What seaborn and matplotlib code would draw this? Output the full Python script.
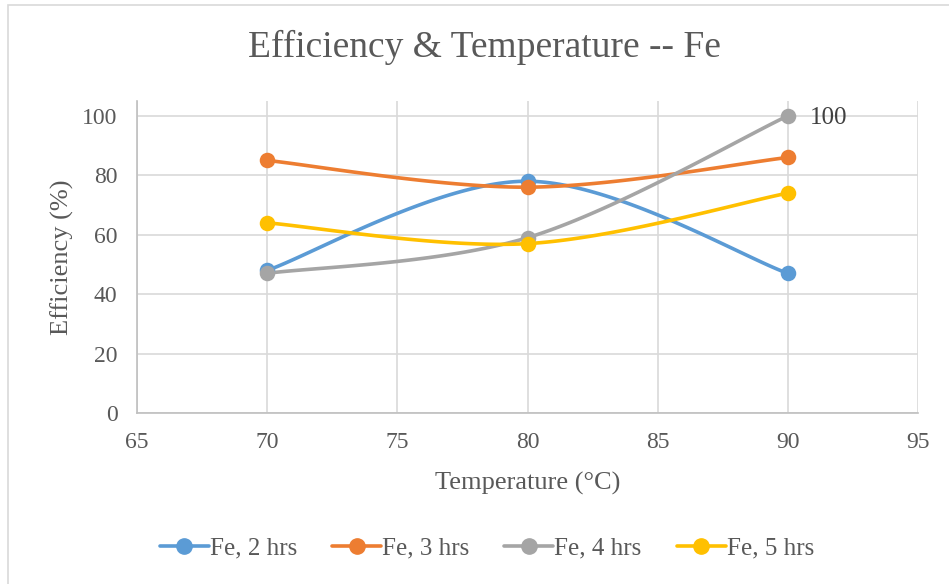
import numpy as np
import pandas as pd
import matplotlib
matplotlib.use("Agg")
import matplotlib.pyplot as plt
from matplotlib.lines import Line2D
from matplotlib.patches import Rectangle
import seaborn as sns

temperature = [70, 80, 90]
fe_2hrs = [48, 78, 47]
fe_3hrs = [85, 76, 86]
fe_4hrs = [47, 59, 100]
fe_5hrs = [64, 57, 74]
series_names = ["Fe, 2 hrs", "Fe, 3 hrs", "Fe, 4 hrs", "Fe, 5 hrs"]
series_colors = ["#5B9BD5", "#ED7D31", "#A5A5A5", "#FFC000"]
x_ticks = [65, 70, 75, 80, 85, 90, 95]
y_ticks = [0, 20, 40, 60, 80, 100]

TEXT = "#595959"


def smooth_curve(xs, ys, n=60):
    """Cubic Bezier smoothing through every point (Catmull-Rom style)."""
    pts = np.column_stack([xs, ys]).astype(float)
    padded = np.vstack([pts[0], pts, pts[-1]])
    out = []
    t = np.linspace(0, 1, n)[:, None]
    for i in range(1, len(padded) - 2):
        p0, p1, p2, p3 = padded[i - 1], padded[i], padded[i + 1], padded[i + 2]
        c1 = p1 + (p2 - p0) / 6.0
        c2 = p2 - (p3 - p1) / 6.0
        seg = ((1 - t) ** 3) * p1 + 3 * ((1 - t) ** 2) * t * c1 + 3 * (1 - t) * t ** 2 * c2 + t ** 3 * p2
        out.append(seg if i == 1 else seg[1:])
    out = np.vstack(out)
    return out[:, 0], out[:, 1]


sns.set_theme(style="white")
plt.rcParams["font.family"] = ["Liberation Serif", "DejaVu Serif"]

fig = plt.figure(figsize=(9.49, 5.84), dpi=100)
ax = fig.add_axes([137 / 949, 1 - 413 / 584, (918 - 137) / 949, (413 - 101) / 584])

# chart border
fig.add_artist(Rectangle((7.5 / 949, -0.1), 1.2, 1.1 - 5.5 / 584, transform=fig.transFigure,
                         fill=False, edgecolor="#D9D9D9", linewidth=1.2))

all_series = [fe_2hrs, fe_3hrs, fe_4hrs, fe_5hrs]
handles = []
for name, vals, color in zip(series_names, all_series, series_colors):
    sx, sy = smooth_curve(temperature, vals)
    curve = pd.DataFrame({"Temperature": sx, "Efficiency": sy})
    sns.lineplot(data=curve, x="Temperature", y="Efficiency", sort=False, ax=ax,
                 color=color, linewidth=2.6, zorder=3)
    pts = pd.DataFrame({"Temperature": temperature, "Efficiency": vals})
    sns.scatterplot(data=pts, x="Temperature", y="Efficiency", ax=ax, color=color,
                    s=125, edgecolor=color, linewidth=0, zorder=4)
    handles.append(Line2D([0], [0], color=color, linewidth=2.6, marker="o",
                          markersize=11, label=name))

# value label on the 90 °C point of the 4-hour series
ax.annotate(f"{fe_4hrs[-1]}", xy=(temperature[-1], fe_4hrs[-1]), xytext=(16, 0),
            textcoords="offset points", va="center_baseline", ha="left", fontsize=18,
            color="#404040")

ax.set_xlim(65, 95)
ax.set_ylim(0, 105)
ax.set_xticks(x_ticks)
ax.set_yticks(y_ticks)
ax.grid(True, color="#D9D9D9", linewidth=1.2)
ax.set_axisbelow(True)
for side in ["top", "right"]:
    ax.spines[side].set_visible(False)
for side in ["left", "bottom"]:
    ax.spines[side].set_color("#BFBFBF")
    ax.spines[side].set_linewidth(1.2)
ax.tick_params(axis="y", labelsize=17, colors=TEXT, length=0, pad=14)
ax.tick_params(axis="x", labelsize=17, colors=TEXT, length=0, pad=14)

ax.set_xlabel("Temperature (°C)", fontsize=19, color=TEXT, labelpad=13)
ax.set_ylabel("Efficiency (%)", fontsize=19, color=TEXT, labelpad=6)
fig.text(484 / 949, 1 - 47 / 584, "Efficiency & Temperature -- Fe", ha="center", va="center",
         fontsize=27, color=TEXT)

fig.legend(handles=handles, loc="center", bbox_to_anchor=(487 / 949, 1 - 548 / 584), ncol=4,
           frameon=False, fontsize=18, labelcolor=TEXT, handlelength=1.95,
           handletextpad=0.05, columnspacing=1.4)

fig.savefig("out.png", dpi=100, facecolor="white")
